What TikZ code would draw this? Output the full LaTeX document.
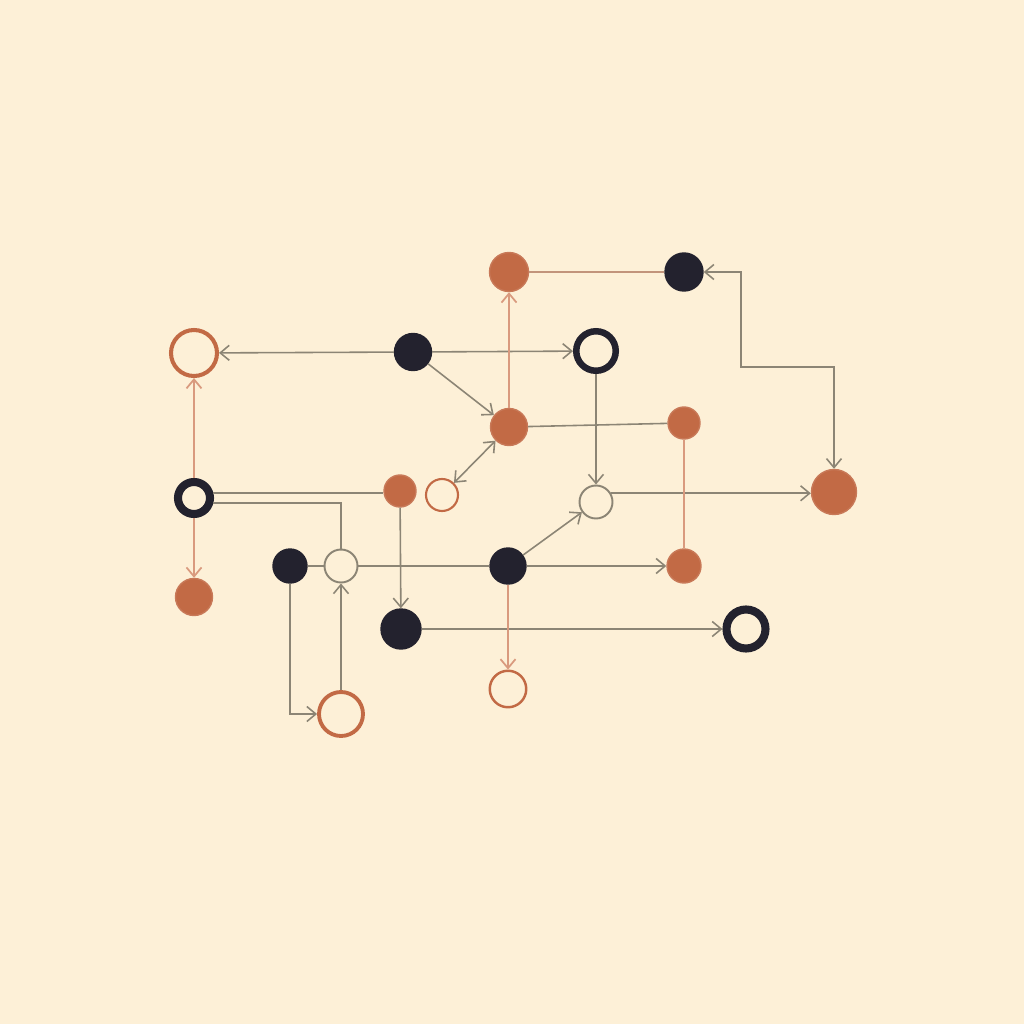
\documentclass[tikz,border=0pt]{standalone}
\usepackage{xcolor}
\usepackage{tikz}
\usetikzlibrary{arrows.meta}
\definecolor{paper}{HTML}{FDF0D7}
\definecolor{ink}{HTML}{23222E}
\definecolor{clay}{HTML}{C26A45}
\definecolor{claylight}{HTML}{D99A7E}
\definecolor{pencil}{HTML}{8C8575}
\begin{document}
\begin{tikzpicture}[x=0.1mm, y=-0.1mm, >={Straight Barb[length=0.9mm, width=1.5mm]},
	dotink/.style={circle, inner sep=0pt, fill=ink, draw=ink, line width=0.4pt},
	dotclay/.style={circle, inner sep=0pt, fill=clay, draw=clay!90!white, line width=0.4pt},
	ringink/.style={circle, inner sep=0pt, fill=paper, draw=ink},
	ringclay/.style={circle, inner sep=0pt, fill=paper, draw=clay},
	ringpencil/.style={circle, inner sep=0pt, fill=paper, draw=pencil, line width=0.55pt},
	pencilline/.style={draw=pencil, line width=0.45pt},
	clayline/.style={draw=claylight, line width=0.5pt}]
	 		\fill[paper] (0,0) rectangle (1024,1024);
	 		
	 		% Nodes
	 		\node[ringclay, minimum size=4.6mm, line width=1.15pt] (1) at (194,353) {};
	 		\node[dotink, minimum size=3.7mm] (2) at (413,352) {};
	 		\node[dotclay, minimum size=3.9mm] (3) at (509,272) {};
	 		\node[dotink, minimum size=3.8mm] (4) at (684,272) {};
	 		\node[ringink, minimum size=3.95mm, line width=1.85pt] (5) at (596,351) {};
	 		\node[dotclay, minimum size=3.7mm] (6) at (509,427) {};
	 		\node[dotclay, minimum size=3.2mm] (7) at (684,423) {};
	 		\node[ringclay, minimum size=3.2mm, line width=0.6pt] (8) at (442,495) {};
	 		\node[ringink, minimum size=3.2mm, line width=2.3pt] (9) at (194,498) {};
	 		\node[dotclay, minimum size=3.2mm] (10) at (400,491) {};
	 		\node[ringpencil, minimum size=3.3mm] (11) at (596,502) {};
	 		\node[dotclay, minimum size=4.5mm] (12) at (834,492) {};
	 		\node[dotink, minimum size=3.4mm] (13) at (290,566) {};
	 		\node[ringpencil, minimum size=3.3mm] (14) at (341,566) {};
	 		\node[dotink, minimum size=3.6mm] (15) at (508,566) {};
	 		\node[dotclay, minimum size=3.4mm] (16) at (684,566) {};
	 		\node[dotclay, minimum size=3.7mm] (17) at (194,597) {};
	 		\node[dotink, minimum size=4.0mm] (18) at (401,629) {};
	 		\node[ringink, minimum size=3.9mm, line width=2.3pt] (19) at (746,629) {};
	 		\node[ringclay, minimum size=3.65mm, line width=0.7pt] (20) at (508,689) {};
	 		\node[ringclay, minimum size=4.4mm, line width=1.1pt] (21) at (341,714) {};
	 		
	 		% Corner of the long elbow
	 		\coordinate (c1) at (741,367);
	 		
	 		% Edges
	 		\draw[pencilline, ->] (2) -- (1);
	 		\draw[pencilline, ->] (2) -- (5);
	 		\draw[pencilline, ->] (2) -- (6);
	 		\draw[draw=claylight!70!pencil, line width=0.5pt] (3) -- (4);
	 		\draw[clayline, ->] (6) -- (3);
	 		\draw[pencilline, <->] (4) -| (c1) -| (12);
	 		\draw[pencilline] (6) -- (7);
	 		\draw[pencilline, ->] (5) -- (11);
	 		\draw[pencilline, ->] (11.30) -- (11.30 -| 12.west);
	 		\draw[clayline] (7) -- (16);
	 		\draw[pencilline, <->] (6) -- (8);
	 		\draw[pencilline, ->] (15) -- (11);
	 		\draw[pencilline] (9.15) -- (9.15 -| 10.west);
	 		\draw[pencilline] (9.-15) -| (14);
	 		\draw[clayline, ->] (9) -- (1);
	 		\draw[clayline, ->] (9) -- (17);
	 		\draw[pencilline] (13) -- (14);
	 		\draw[pencilline] (14) -- (15);
	 		\draw[pencilline, ->] (15) -- (16);
	 		\draw[pencilline, ->] (10) -- (18);
	 		\draw[pencilline, ->] (13) |- (21);
	 		\draw[pencilline, ->] (21) -- (14);
	 		\draw[pencilline, ->] (18) -- (19);
	 		\draw[clayline, ->] (15) -- (20);
	 		
\end{tikzpicture}
\end{document}
